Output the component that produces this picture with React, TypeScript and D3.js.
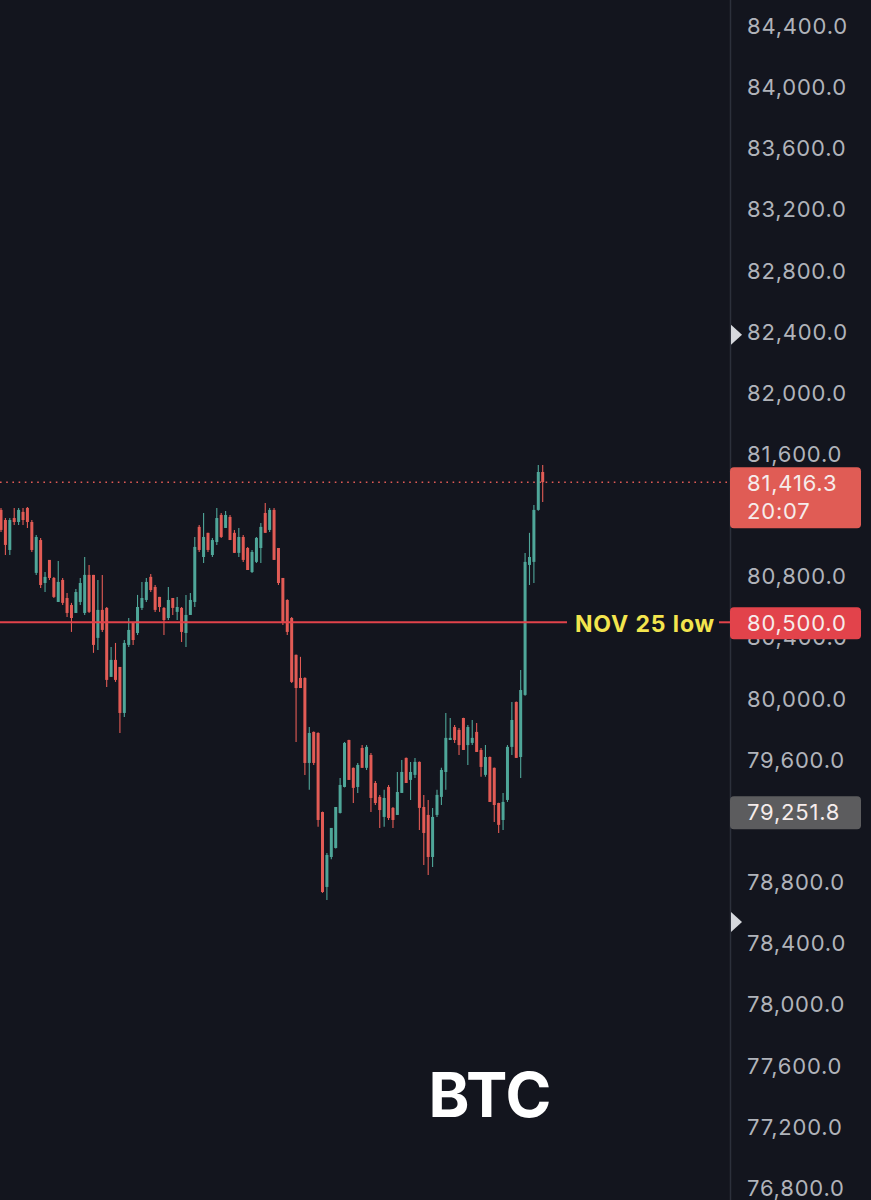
import { useEffect, useRef } from "react";
import * as d3 from "d3";

const WIDTH = 871;
const HEIGHT = 1200;

// OHLC per candle, oldest first
const opens = [
  81235, 81169, 80973, 81182, 81156, 81222, 81248, 81156, 80823, 81038,
  80757, 80908, 80790, 80633, 80777, 80659, 80613, 80561, 80633, 80561,
  80810, 80810, 80398, 80581, 80594, 80143, 80254, 80208, 79907, 80352,
  80496, 80430, 80594, 80646, 80797, 80731, 80666, 80594, 80528, 80659,
  80568, 80594, 80430, 80548, 80633, 81124, 80927, 81085, 80940, 81025,
  81202, 81117, 81189, 81085, 80954, 81058, 80986, 80829, 80895, 80986,
  81215, 81104, 81235, 80986, 80790, 80646, 80528, 80287, 80136, 80136,
  79580, 79783, 79776, 79259, 78769, 78965, 79024, 79253, 79423, 79730,
  79548, 79423, 79678, 79548, 79632, 79449, 79358, 79227, 79423, 79286,
  79240, 79384, 79613, 79469, 79502, 79587, 79292, 79240, 78965, 79240,
  79358, 79521, 79730, 79815, 79796, 79874, 79697, 79711, 79783, 79665,
  79502, 79619, 79548, 79318, 79207, 79338, 79685, 79979, 79619, 80025,
  80875, 80895, 81235, 81483,
];
const highs = [
  81248, 81182, 81182, 81248, 81248, 81248, 81254, 81169, 81071, 81052,
  80829, 80908, 80797, 80901, 80790, 80692, 80627, 80718, 80790, 80927,
  80875, 80810, 80777, 80810, 80600, 80339, 80365, 80208, 80384, 80528,
  80496, 80679, 80764, 80790, 80816, 80744, 80666, 80600, 80731, 80659,
  80666, 80600, 80679, 80692, 81058, 81137, 81215, 81085, 81052, 81248,
  81215, 81228, 81202, 81104, 81117, 81071, 80993, 80973, 81058, 81150,
  81280, 81248, 81248, 80986, 80790, 80650, 80535, 80290, 80274, 80140,
  79815, 79785, 79780, 79262, 78991, 79155, 79292, 79482, 79717, 79732,
  79550, 79580, 79697, 79697, 79645, 79462, 79371, 79404, 79436, 79292,
  79521, 79600, 79615, 79587, 79613, 79590, 79371, 79338, 79286, 79404,
  79548, 79907, 79874, 79828, 79809, 79876, 79828, 79861, 79841, 79678,
  79697, 79622, 79550, 79320, 79384, 79697, 79979, 79982, 80188, 80954,
  81085, 81267, 81529, 81529,
];
const lows = [
  81091, 80940, 80940, 81137, 81137, 81137, 81117, 80960, 80810, 80725,
  80698, 80777, 80659, 80633, 80613, 80535, 80437, 80561, 80613, 80548,
  80561, 80300, 80319, 80437, 80077, 80143, 80110, 79776, 79881, 80339,
  80352, 80417, 80581, 80633, 80698, 80568, 80568, 80417, 80515, 80548,
  80515, 80371, 80339, 80548, 80600, 80960, 80888, 80960, 80927, 81006,
  81052, 81117, 81038, 80954, 80927, 80895, 80842, 80823, 80888, 80888,
  81085, 81091, 80908, 80744, 80482, 80417, 80103, 79717, 80070, 79502,
  79404, 79567, 79162, 78730, 78684, 78950, 79020, 79250, 79420, 79469,
  79318, 79384, 79548, 79534, 79259, 79305, 79155, 79162, 79207, 79155,
  79240, 79384, 79449, 79338, 79482, 79142, 78913, 78847, 78900, 79227,
  79305, 79404, 79730, 79711, 79632, 79665, 79567, 79697, 79652, 79489,
  79489, 79325, 79194, 79122, 79142, 79325, 79632, 79613, 79482, 80020,
  80744, 80757, 81230, 81287,
];
const closes = [
  81104, 81006, 81169, 81156, 81235, 81169, 81156, 80973, 81058, 80744,
  80797, 80790, 80666, 80764, 80627, 80561, 80528, 80698, 80757, 80810,
  80568, 80352, 80581, 80450, 80123, 80254, 80123, 79907, 80365, 80450,
  80384, 80600, 80659, 80764, 80711, 80581, 80600, 80515, 80646, 80594,
  80600, 80437, 80548, 80646, 80993, 80973, 81058, 80973, 81038, 81182,
  81058, 81202, 81038, 80954, 81058, 80908, 80842, 80960, 81052, 81124,
  81085, 81235, 80908, 80757, 80496, 80437, 80110, 80070, 80070, 79580,
  79776, 79580, 79207, 78736, 78978, 79155, 79292, 79436, 79711, 79469,
  79417, 79567, 79548, 79685, 79351, 79318, 79272, 79351, 79220, 79207,
  79390, 79521, 79449, 79521, 79587, 79286, 79122, 78965, 79227, 79371,
  79534, 79744, 79744, 79730, 79697, 79665, 79815, 79744, 79652, 79554,
  79619, 79325, 79305, 79175, 79325, 79685, 79861, 79613, 80057, 80895,
  80927, 81235, 81483, 81416.3,
];

// tick labels that are fully covered by a price box are not drawn
const priceTicks = d3
  .range(76800, 84401, 400)
  .filter((d) => d !== 81200 && d !== 79200);
const lastPrice = 81416.3;
const countdown = "20:07";
const levelPrice = 80500;
const levelLabel = "NOV 25 low";
const markerPrice = 79251.8;
const arrowPrices = [82380, 78540];
const symbol = "BTC";

const BG = "#13151e";
const UP = "#4fa699";
const DOWN = "#e25b55";
const AXIS_TEXT = "#b0b3ba";
const FONT = "Inter, 'Noto Sans', sans-serif";

export default function App() {
  const ref = useRef<SVGSVGElement>(null);

  useEffect(() => {
    const svg = d3.select(ref.current);
    svg.selectAll("*").remove();

    const axisX = 730;
    const labelX = 747;
    const fmt = d3.format(",.1f");

    const y = d3.scaleLinear().domain([76800, 84400]).range([1188, 26]);
    const x = d3
      .scaleLinear()
      .domain([0, opens.length - 1])
      .range([1, 542.7]);

    const candles = opens.map((o, i) => ({
      i,
      o,
      h: highs[i],
      l: lows[i],
      c: closes[i],
    }));

    svg
      .append("rect")
      .attr("width", WIDTH)
      .attr("height", HEIGHT)
      .attr("fill", BG);

    // price axis separator
    svg
      .append("line")
      .attr("x1", axisX + 0.5)
      .attr("x2", axisX + 0.5)
      .attr("y1", 0)
      .attr("y2", HEIGHT)
      .attr("stroke", "#2c303b")
      .attr("stroke-width", 1.5);

    // axis tick labels
    svg
      .append("g")
      .selectAll("text")
      .data(priceTicks)
      .join("text")
      .attr("x", labelX)
      .attr("y", (d) => y(d))
      .attr("dy", "0.36em")
      .attr("font-family", FONT)
      .attr("font-size", 22)
      .attr("letter-spacing", 0.8)
      .attr("fill", AXIS_TEXT)
      .text((d) => fmt(d));

    // last price dotted line
    svg
      .append("line")
      .attr("x1", 0)
      .attr("x2", axisX)
      .attr("y1", y(lastPrice))
      .attr("y2", y(lastPrice))
      .attr("stroke", DOWN)
      .attr("stroke-width", 1.6)
      .attr("stroke-dasharray", "1.6 4.6");

    // candles
    const g = svg.append("g");
    g.selectAll("line")
      .data(candles)
      .join("line")
      .attr("x1", (d) => x(d.i))
      .attr("x2", (d) => x(d.i))
      .attr("y1", (d) => y(d.h))
      .attr("y2", (d) => y(d.l))
      .attr("stroke", (d) => (d.c >= d.o ? UP : DOWN))
      .attr("stroke-width", 1.1);
    g.selectAll("rect")
      .data(candles)
      .join("rect")
      .attr("x", (d) => x(d.i) - 1.5)
      .attr("width", 3)
      .attr("y", (d) => y(Math.max(d.o, d.c)))
      .attr("height", (d) => Math.max(1, Math.abs(y(d.o) - y(d.c))))
      .attr("fill", (d) => (d.c >= d.o ? UP : DOWN));

    // horizontal level
    const ly = y(levelPrice);
    svg
      .append("line")
      .attr("x1", 0)
      .attr("x2", 567)
      .attr("y1", ly)
      .attr("y2", ly)
      .attr("stroke", "#e2434b")
      .attr("stroke-width", 2);
    svg
      .append("line")
      .attr("x1", 719)
      .attr("x2", axisX)
      .attr("y1", ly)
      .attr("y2", ly)
      .attr("stroke", "#e2434b")
      .attr("stroke-width", 2);
    svg
      .append("text")
      .attr("x", 645)
      .attr("y", ly + 1)
      .attr("dy", "0.36em")
      .attr("text-anchor", "middle")
      .attr("font-family", FONT)
      .attr("font-weight", 700)
      .attr("font-size", 23)
      .attr("letter-spacing", 0.9)
      .attr("fill", "#f3e54e")
      .text(levelLabel);

    // price boxes on the axis
    const boxes = [
      { top: y(lastPrice) - 15, h: 61, fill: "#e05c55", lines: [fmt(lastPrice), countdown] },
      { top: ly - 15, h: 32, fill: "#e2434b", lines: [fmt(levelPrice)] },
      { top: y(markerPrice) - 17, h: 33, fill: "#5c5c5e", lines: [fmt(markerPrice)] },
    ];
    const bg = svg.append("g");
    boxes.forEach((b) => {
      bg.append("rect")
        .attr("x", axisX)
        .attr("y", b.top)
        .attr("width", 131)
        .attr("height", b.h)
        .attr("rx", 4)
        .attr("fill", b.fill);
      b.lines.forEach((t, k) => {
        bg.append("text")
          .attr("x", labelX)
          .attr("y", b.top + 16 + k * 28)
          .attr("dy", "0.36em")
          .attr("font-family", FONT)
          .attr("font-size", 22)
          .attr("letter-spacing", 0.8)
          .attr("fill", "#f6eceb")
          .text(t);
      });
    });

    // small markers on the axis
    svg
      .append("g")
      .selectAll("path")
      .data(arrowPrices)
      .join("path")
      .attr("d", (d) => {
        const cy = y(d);
        return `M${axisX + 1},${cy - 10}L${axisX + 12},${cy}L${axisX + 1},${cy + 10}Z`;
      })
      .attr("fill", "#d6d8dd");

    svg
      .append("text")
      .attr("x", 490)
      .attr("y", 1117)
      .attr("text-anchor", "middle")
      .attr("font-family", FONT)
      .attr("font-weight", 700)
      .attr("font-size", 62)
      .attr("fill", "#ffffff")
      .text(symbol);
  }, []);

  return (
    <svg
      ref={ref}
      width={WIDTH}
      height={HEIGHT}
      style={{ position: "absolute", left: 0, top: 0, display: "block" }}
    />
  );
}
